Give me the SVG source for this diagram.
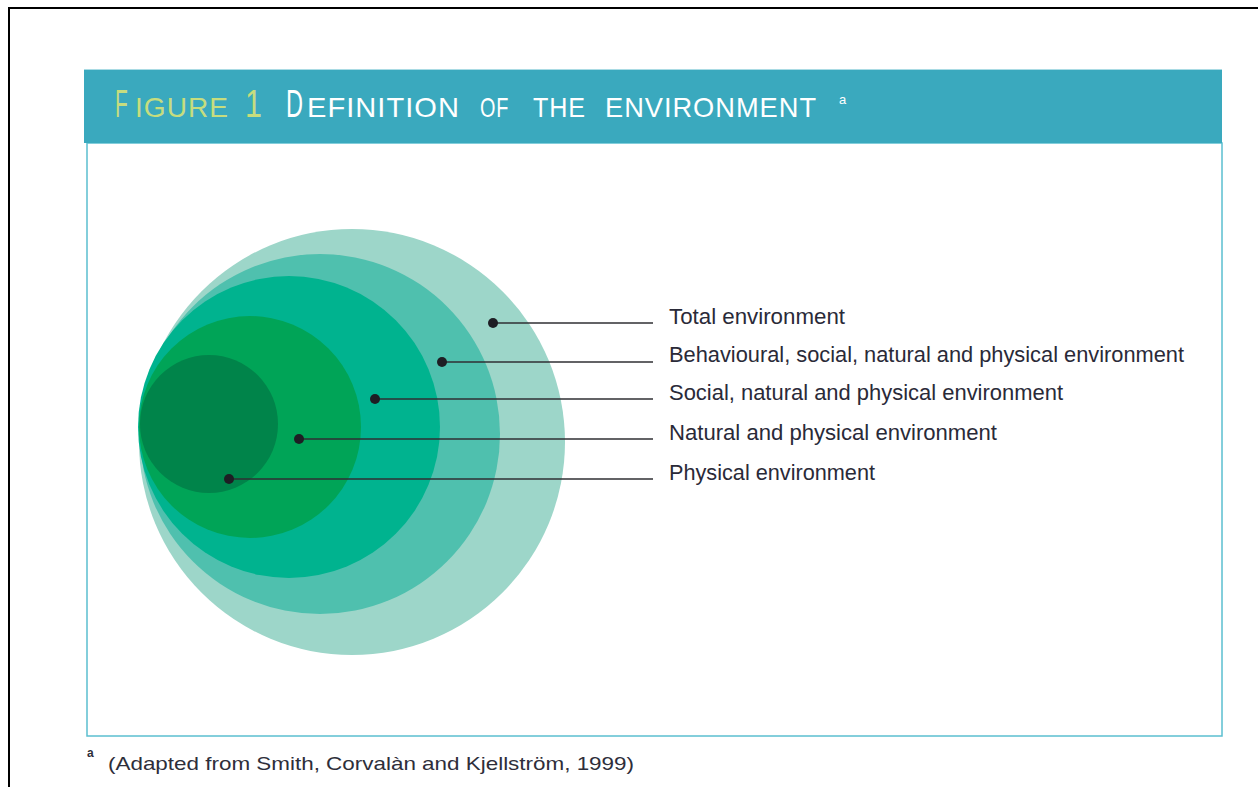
<svg xmlns="http://www.w3.org/2000/svg" width="1258" height="787" viewBox="0 0 1258 787">
  <style>
    .ttl { font-family: "Liberation Sans", Arial, sans-serif; }
    .sp { letter-spacing: 1px; }
    .g { fill: #c6dd7e; }
    .w { fill: #ffffff; }
    .lbl { font-family: "Liberation Sans", Arial, sans-serif; font-size: 22px; fill: #2a2a38; }
    .foot { font-family: "Liberation Sans", Arial, sans-serif; fill: #2e2e3a; }
    .dot { fill: #1e1e24; }
    .conn line { stroke: #2f2f33; stroke-width: 1.4; }
  </style>
  <rect x="0" y="0" width="1258" height="787" fill="#ffffff"/>
  <!-- page frame -->
  <path d="M9,787 V8 H1258" fill="none" stroke="#000000" stroke-width="2"/>

  <!-- figure box -->
  <g id="figure-box">
    <rect x="87" y="143" width="1135" height="593" fill="#ffffff" stroke="#5bbfd0" stroke-width="1.5"/>
    <rect x="84" y="69" width="1138" height="74" fill="#3aa9be"/>
    <line x1="84" y1="69.5" x2="1222" y2="69.5" stroke="#a9dbe4" stroke-width="1"/>
  </g>

  <!-- title -->
  <g id="title">
    <text class="ttl g" transform="translate(115,117) scale(0.55,1)" font-size="38">F</text>
    <text class="ttl sp g" x="135" y="117" font-size="28" textLength="94" lengthAdjust="spacingAndGlyphs">IGURE</text>
    <text class="ttl g" transform="translate(245,117) scale(0.8,1)" font-size="38">1</text>
    <text class="ttl w" transform="translate(286,117) scale(0.62,1)" font-size="38">D</text>
    <text class="ttl sp w" x="307" y="117" font-size="28" textLength="153" lengthAdjust="spacingAndGlyphs">EFINITION</text>
    <text class="ttl sp w" x="480" y="117" font-size="28" textLength="29" lengthAdjust="spacingAndGlyphs">OF</text>
    <text class="ttl sp w" x="533" y="117" font-size="28" textLength="53" lengthAdjust="spacingAndGlyphs">THE</text>
    <text class="ttl sp w" x="605" y="117" font-size="28" textLength="212" lengthAdjust="spacingAndGlyphs">ENVIRONMENT</text>
    <text class="ttl w" x="839" y="104" font-size="13">a</text>
  </g>

  <!-- rings (nodes) -->
  <g id="total-environment">
    <circle cx="352" cy="442" r="213" fill="#9dd6c9"/>
  </g>
  <g id="behavioural-environment">
    <circle cx="320" cy="434" r="180" fill="#4fc0ae"/>
  </g>
  <g id="social-environment">
    <circle cx="289" cy="427" r="151" fill="#00b38f"/>
  </g>
  <g id="natural-environment">
    <circle cx="250" cy="427" r="111" fill="#00a457"/>
  </g>
  <g id="physical-environment">
    <circle cx="209" cy="424" r="69" fill="#00844a"/>
  </g>

  <!-- connectors -->
  <g id="connectors" class="conn">
    <line x1="493" y1="323" x2="653" y2="323"/>
    <line x1="442" y1="362" x2="653" y2="362"/>
    <line x1="375" y1="399" x2="653" y2="399"/>
    <line x1="299" y1="439" x2="653" y2="439"/>
    <line x1="229" y1="479" x2="653" y2="479"/>
    <circle class="dot" cx="493" cy="323" r="5"/>
    <circle class="dot" cx="442" cy="362" r="5"/>
    <circle class="dot" cx="375" cy="399" r="5"/>
    <circle class="dot" cx="299" cy="439" r="5"/>
    <circle class="dot" cx="229" cy="479" r="5"/>
  </g>

  <!-- labels -->
  <g id="labels">
    <text class="lbl" x="669" y="324" textLength="176" lengthAdjust="spacingAndGlyphs">Total environment</text>
    <text class="lbl" x="669" y="362" textLength="515" lengthAdjust="spacingAndGlyphs">Behavioural, social, natural and physical environment</text>
    <text class="lbl" x="669" y="400" textLength="394" lengthAdjust="spacingAndGlyphs">Social, natural and physical environment</text>
    <text class="lbl" x="669" y="440" textLength="328" lengthAdjust="spacingAndGlyphs">Natural and physical environment</text>
    <text class="lbl" x="669" y="480" textLength="206" lengthAdjust="spacingAndGlyphs">Physical environment</text>
  </g>

  <!-- footnote -->
  <g id="footnote">
    <text class="foot" x="87" y="757" font-size="12" font-weight="bold">a</text>
    <text class="foot" x="108" y="770" font-size="19" textLength="526" lengthAdjust="spacingAndGlyphs">(Adapted from Smith, Corvalàn and Kjellström, 1999)</text>
  </g>
</svg>
